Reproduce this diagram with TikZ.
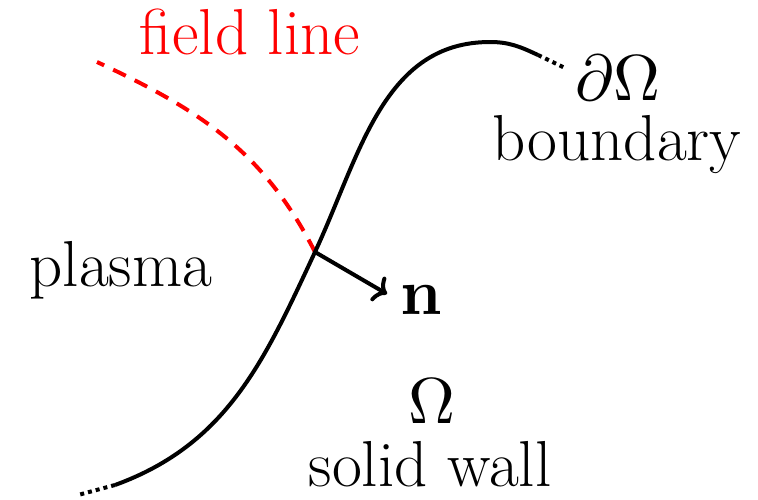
\documentclass[tikz,border=0pt]{standalone}
\usetikzlibrary{arrows.meta}
\newcommand{\bigmath}[1]{\scalebox{6.5}{\fontsize{10}{12}\selectfont$#1$}}
\begin{document}
\begin{tikzpicture}[x=1pt,y=-1pt,
  lbl/.style={inner sep=0pt, font=\fontsize{65}{78}\selectfont},
  wall/.style={line width=4pt},
  dotend/.style={line width=4pt, dash pattern=on 4pt off 4pt},
  field/.style={line width=4pt, red, dash pattern=on 14pt off 10pt}]
\useasboundingbox (0,0) rectangle (758,499);
\coordinate (b0) at (78,495);
\coordinate (b1) at (115,485);
\coordinate (p) at (315,252);
\coordinate (top) at (490,42);
\coordinate (e1) at (538,55);
\coordinate (e0) at (565,68);
\coordinate (f0) at (97,62);
\coordinate (tip) at (387,294);
\draw[field] (p) to[out=117,in=-25] (f0);
\draw[wall] (b1) to[out=20,in=245] (p) to[out=65,in=180] (top) to[out=0,in=155] (e1);
\draw[dotend] (b1) -- (b0);
\draw[dotend] (e1) -- (e0);
\draw[wall,-{To[length=12pt,width=28pt]}] (p) -- (tip);
\node[lbl, text=red] (fl) at (250,32) {field line};
\node[lbl] (dO) at (618,78) {\bigmath{\partial\Omega}};
\node[lbl] (bd) at (617,145) {boundary};
\node[lbl] (pl) at (121,270) {plasma};
\node[lbl] (n) at (421,300) {\bigmath{\mathbf{n}}};
\node[lbl] (Om) at (432,401) {\bigmath{\Omega}};
\node[lbl] (sw) at (430,464) {solid wall};
\end{tikzpicture}
\end{document}
